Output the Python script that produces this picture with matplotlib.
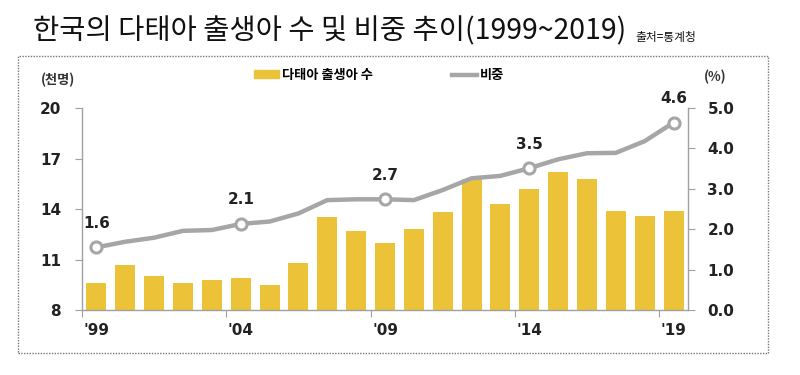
import matplotlib
matplotlib.use("Agg")
import matplotlib.pyplot as plt
from matplotlib.patches import Rectangle, Patch
from matplotlib.lines import Line2D

plt.rcParams['font.family'] = ['Noto Sans CJK KR', 'DejaVu Sans']

# 데이터
years = list(range(1999, 2020))
births = [9.6, 10.7, 10.0, 9.6, 9.8, 9.9, 9.5, 10.8, 13.5, 12.7, 12.0,
          12.8, 13.8, 15.8, 14.3, 15.2, 16.2, 15.8, 13.9, 13.6, 13.9]
share = [1.55, 1.69, 1.79, 1.96, 1.98, 2.13, 2.19, 2.39, 2.72, 2.74, 2.74,
         2.72, 2.97, 3.26, 3.32, 3.51, 3.73, 3.88, 3.89, 4.18, 4.64]
mark_years = [1999, 2004, 2009, 2014, 2019]
mark_labels = ['1.6', '2.1', '2.7', '3.5', '4.6']
xlabels = ["'99", "'04", "'09", "'14", "'19"]

bar_color = '#EBC238'
line_color = '#A6A6A6'
spine_color = '#A0A0A0'
num_font = ['DejaVu Sans']

fig = plt.figure(figsize=(8, 3.75), dpi=100)
ax = fig.add_axes([0.1025, 0.1733, 0.7575, 0.5387])
ax2 = ax.twinx()

x = list(range(len(years)))
ax.bar(x, births, width=0.69, color=bar_color, zorder=2)
ax.set_xlim(-0.5, len(years) - 0.5)
ax.set_ylim(8, 20)
ax.set_yticks([8, 11, 14, 17, 20])

ax2.plot(x, share, color=line_color, lw=3.2, solid_capstyle='round', zorder=3)
mx = [years.index(y) for y in mark_years]
ax2.plot(mx, [share[i] for i in mx], 'o', ms=8, mfc='white', mec=line_color,
         mew=2.2, zorder=4)
for i, lab in zip(mx, mark_labels):
    ax2.annotate(lab, (i, share[i]), xytext=(0, 12), textcoords='offset points',
                 ha='center', va='bottom', fontsize=11, fontweight='bold',
                 family=num_font, color='#222222')
ax2.set_ylim(0, 5)
ax2.set_yticks([0, 1, 2, 3, 4, 5])
ax2.set_yticklabels(['%.1f' % v for v in [0, 1, 2, 3, 4, 5]])

# x축: 구분선 눈금 + 라벨
ax.set_xticks([i - 0.5 for i in mx])
ax.set_xticklabels([])
ax.set_xticks(mx, minor=True)
ax.set_xticklabels(xlabels, minor=True)
ax.tick_params(axis='x', which='major', length=5, color=spine_color, direction='out')
ax.tick_params(axis='x', which='minor', length=0, pad=9, labelsize=11)
ax.tick_params(axis='y', length=5, color=spine_color, pad=10, labelsize=11)
ax2.tick_params(axis='y', length=5, color=spine_color, pad=9, labelsize=11)
for lab in ax.get_xticklabels(minor=True) + ax.get_yticklabels() + ax2.get_yticklabels():
    lab.set_fontweight('bold')
    lab.set_family(num_font)
    lab.set_color('#222222')

for a in (ax, ax2):
    a.spines['top'].set_visible(False)
    for s in ('left', 'right', 'bottom'):
        a.spines[s].set_color(spine_color)
        a.spines[s].set_linewidth(1)
ax.spines['right'].set_visible(False)
ax2.spines['left'].set_visible(False)
ax2.spines['bottom'].set_visible(False)

# 단위
fig.text(58 / 800, 1 - 80 / 375, '(천명)', ha='center', va='center', fontsize=9.5,
         fontweight='bold', color='#333333')
fig.text(715 / 800, 1 - 77 / 375, '(%)', ha='center', va='center', fontsize=9.5,
         fontweight='bold', color='#333333')

# 범례
handles = [Patch(color=bar_color), Line2D([], [], color=line_color, lw=3.2)]
fig.legend(handles, ['다태아 출생아 수', '비중'], loc='center',
           bbox_to_anchor=(0.474, 1 - 75 / 375), ncol=2, frameon=False,
           handlelength=1.9, handleheight=0.55, handletextpad=0.2,
           columnspacing=6, prop={'size': 9.5, 'weight': 'bold'})

# 제목
fig.text(33 / 800, 1 - 31 / 375, '한국의 다태아 출생아 수 및 비중 추이(1999~2019)',
         ha='left', va='center', fontsize=20.5, color='#111111')
fig.text(635 / 800, 1 - 37 / 375, '출처=통계청', ha='left', va='center',
         fontsize=8.5, color='#111111')

# 점선 테두리
fig.patches.append(Rectangle((18 / 800, 1 - 353 / 375), 750 / 800, 297 / 375,
                             transform=fig.transFigure, fill=False,
                             ec='#777777', lw=1, ls=(0, (1, 1))))

fig.savefig('out.png', dpi=100)
